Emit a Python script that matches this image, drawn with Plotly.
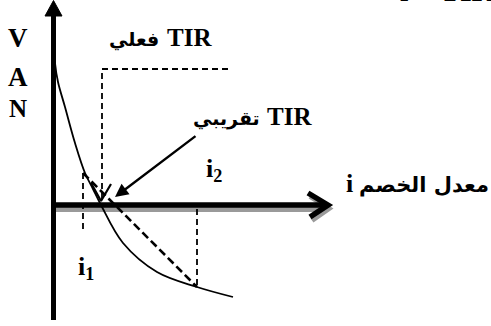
import plotly.graph_objects as go

# ---- data (discount rate i, VAN) ----
curve_i = [0.05, 0.2, 0.5, 1.2, 2.2, 3.2, 4.0, 4.8, 7.0, 10.4, 14.4, 18.0]
curve_van = [17.0, 14.2, 12.3, 9.8, 6.2, 3.2, 1.6, 0.0, -3.8, -6.7, -8.2, -9.2]

i1, van_i1 = 3.0, 3.2
i2, van_i2 = 14.4, -8.2
tir_real = 4.9
tir_approx = 6.2

SERIF = "Liberation Serif"
ARAB = "DejaVu Sans"
fig = go.Figure()

def line(xs, ys, color="black", width=2, dash=None):
    fig.add_trace(go.Scatter(x=xs, y=ys, mode="lines", hoverinfo="skip",
                             line=dict(color=color, width=width, dash=dash)))

# x axis shadow + axis + chevron
line([0.2, 26.9], [-0.45, -0.45], color="#9a9a9a", width=5)
line([25.7, 27.6, 25.9], [0.85, -0.35, -1.55], color="#9a9a9a", width=5)
line([0, 27.0], [0, 0], width=5.5)
line([25.5, 27.5, 25.7], [1.2, 0.0, -1.2], width=5.5)

# y axis + filled arrowhead
line([0.05, 0.05], [-11.5, 19.0], width=5)
fig.add_trace(go.Scatter(x=[-0.8, 0.05, 0.9, -0.8], y=[18.9, 20.45, 18.9, 18.9],
                         mode="lines", fill="toself", fillcolor="black",
                         line=dict(color="black", width=1), hoverinfo="skip"))

# VAN curve
fig.add_trace(go.Scatter(x=curve_i, y=curve_van, mode="lines", hoverinfo="skip",
                         line=dict(color="black", width=1.8, shape="spline", smoothing=1.0)))

# i1 / i2 verticals
line([i1, i1], [van_i1, -2.8], width=1.8, dash="6px,4px")
line([i2, i2], [-0.4, van_i2], width=1.8, dash="6px,4px")
# secant (linear interpolation)
line([i1, i2], [van_i1, van_i2], width=2.6, dash="8px,4px")

# real TIR: dashed bracket with open arrowhead
line([17.5, tir_real, tir_real], [13.6, 13.6, 0.6], width=1.8, dash="6px,4px")
line([3.8, 4.8, 5.8], [2.2, 0.4, 2.1], width=2.2)

# arrow to approx TIR
fig.add_annotation(x=tir_approx, y=0.8, ax=i2, ay=7.0, xref="x", yref="y",
                   axref="x", ayref="y", showarrow=True, arrowhead=2,
                   arrowsize=1.1, arrowwidth=2.4, arrowcolor="black", text="")

def label(x, y, text, size=24, family=SERIF, xanchor="center", yanchor="middle",
          xref="x", yref="y"):
    fig.add_annotation(x=x, y=y, xref=xref, yref=yref, text=text, showarrow=False,
                       xanchor=xanchor, yanchor=yanchor,
                       font=dict(family=family, size=size, color="black"))

label(-3.5, 16.7, "<b>V</b>", size=27)
label(-3.5, 12.8, "<b>A</b>", size=27)
label(-3.5, 9.7, "<b>N</b>", size=25)
# "TIR فعلي"
label(8.1, 16.6, "<b>فعلي</b>", size=19, family=ARAB)
label(13.6, 16.8, "<b>TIR</b>", size=25)
# "TIR تقريبي"
label(17.3, 8.7, "<b>تقريبي</b>", size=19, family=ARAB)
label(23.6, 8.9, "<b>TIR</b>", size=25)
label(16.1, 3.5, "<b>i<sub>2</sub></b>", size=26)
label(3.3, -6.3, "<b>i<sub>1</sub></b>", size=26)
# "معدل الخصم i"
label(43.8, 2.0, "<b>معدل الخصم</b>", size=21, family=ARAB, xanchor="right")
label(29.6, 2.2, "<b>i</b>", size=26)
# heading cut at the top edge
label(0.81, 0.972, "<b>i = TIR</b>", size=30, xanchor="left", yanchor="bottom",
      xref="paper", yref="paper")

fig.update_layout(
    width=491, height=326, margin=dict(l=0, r=0, t=0, b=0),
    paper_bgcolor="white", plot_bgcolor="white", showlegend=False,
    xaxis=dict(range=[-5.3, 43.8], visible=False, fixedrange=True),
    yaxis=dict(range=[-12.1, 20.5], visible=False, fixedrange=True),
)
fig.write_html("out.html", config={"displayModeBar": False},
               post_script="document.body.style.margin='0';document.body.style.overflow='hidden';")
